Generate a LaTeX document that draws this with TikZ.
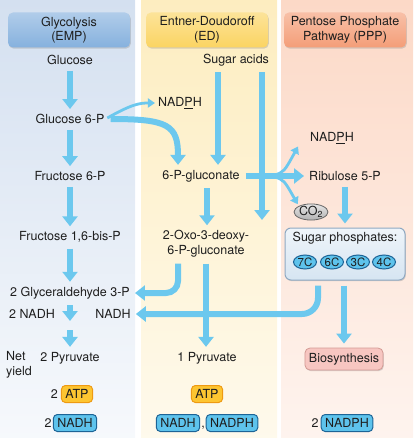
\documentclass[tikz,border=0pt]{standalone}
\usepackage{fontspec}
\setmainfont{TeX Gyre Heros}
\usetikzlibrary{arrows.meta,positioning,shapes.geometric,shadows}
\definecolor{flowblue}{HTML}{6CC8EE}
\definecolor{colblue}{HTML}{D4E0F0}
\definecolor{colyellow}{HTML}{FDEDC0}
\definecolor{colpink}{HTML}{FCD9C7}
\definecolor{hdblue}{HTML}{86B1DE}
\definecolor{hdyellow}{HTML}{FBD462}
\definecolor{hdpink}{HTML}{F49E78}
\definecolor{atpfill}{HTML}{FDC531}
\definecolor{atpline}{HTML}{EE9A12}
\definecolor{nadfill}{HTML}{5EC3EC}
\definecolor{nadline}{HTML}{1D6496}
\definecolor{biofill}{HTML}{F7C6C1}
\definecolor{bioline}{HTML}{D49A94}
\definecolor{spfill}{HTML}{D6E5F2}
\definecolor{spline}{HTML}{8FA9C2}
\definecolor{txt}{HTML}{1E1E1E}
\begin{document}
\begin{tikzpicture}[x=1pt,y=-1pt,
  every node/.style={font=\fontsize{12.5}{14.5}\selectfont, text=txt},
  lbl/.style={inner sep=1pt},
  header/.style={rounded corners=5pt, minimum width=122pt, minimum height=35pt, align=center, inner sep=0pt, drop shadow={shadow xshift=0.8pt, shadow yshift=-1.2pt, opacity=0.3}},
  flow/.style={line width=6pt, flowblue, -{Triangle[width=15pt,length=10pt]}, shorten <=5pt, shorten >=4pt},
  thinflow/.style={line width=2.8pt, flowblue, -{Triangle[width=9pt,length=7pt]}, shorten <=2pt, shorten >=2pt},
  tag/.style={rounded corners=4pt, draw, line width=1pt, inner xsep=4pt, inner ysep=0pt, minimum height=17pt},
  atptag/.style={tag, draw=atpline, fill=atpfill},
  nadtag/.style={tag, draw=nadline, fill=nadfill},
  carb/.style={ellipse, draw=nadline, fill=nadfill, line width=1pt, inner sep=0pt, minimum width=23pt, minimum height=14pt, font=\fontsize{11.5}{13}\selectfont}
]
\useasboundingbox (0,0) rectangle (413,438);
% columns
\shade [top color=colblue, bottom color=colblue!20!white] (0,0) rectangle (135,438);
\shade [top color=colyellow, bottom color=colyellow!30!white] (141,0) rectangle (277,438);
\shade [top color=colpink, bottom color=colpink!30!white] (281,0) rectangle (413,438);
% headers
\node [header, top color=hdblue!65!white, bottom color=hdblue] (hemp) at (69,30) {Glycolysis\\(EMP)};
\node [header, top color=hdyellow!65!white, bottom color=hdyellow] (hed) at (207,30) {Entner-Doudoroff\\(ED)};
\node [header, top color=hdpink!65!white, bottom color=hdpink] (hppp) at (345,30) {Pentose Phosphate\\Pathway (PPP)};
% metabolites
\node [lbl] (glc) at (70,60) {Glucose};
\node [lbl] (sug) at (236,60) {Sugar acids};
\node [lbl] (g6p) at (70,119) {Glucose 6-P};
\node [lbl] (nadpha) at (180,103) {NAD\underline{P}H};
\node [lbl] (nadphb) at (332,138) {NAD\underline{P}H};
\node [lbl] (f6p) at (70,176) {Fructose 6-P};
\node [lbl] (pg) at (201,176) {6-P-gluconate};
\node [lbl] (rib) at (345,176) {Ribulose 5-P};
\node [ellipse, draw=black!60, line width=0.8pt, top color=black!10, bottom color=black!30, inner sep=0pt, minimum width=33pt, minimum height=16pt] (co2) at (311,212) {CO\textsubscript{2}};
\node [lbl] (fbp) at (70,237) {Fructose 1,6-bis-P};
\node [lbl, align=center, font=\fontsize{12.5}{15}\selectfont] (oxo) at (206,244) {2-Oxo-3-deoxy-\\6-P-gluconate};
\node [rounded corners=6pt, draw=spline, line width=1pt, top color=spfill!40!white, bottom color=spfill, minimum width=120pt, minimum height=52pt, drop shadow={shadow xshift=0.8pt, shadow yshift=-1.2pt, opacity=0.3}] (sp) at (345,254) {};
\node [lbl] (sptxt) at (345,238) {Sugar phosphates:};
\foreach \n/\x in {7/305,6/332,3/358,4/384}
  \node [carb] (c\n) at (\x,262) {\n C};
\node [lbl] (g3p) at (70,293) {2 Glyceraldehyde 3-P};
\node [lbl] (nadhl) at (32,314) {2 NADH};
\node [lbl] (nadhm) at (113,314) {NADH};
\coordinate (gmid) at (70,325);
\node [lbl, align=left, anchor=west] (net) at (5,365) {Net\\yield};
\node [lbl] (pyr2) at (70,358) {2 Pyruvate};
\node [lbl] (pyr1) at (207,358) {1 Pyruvate};
\node [rounded corners=5pt, draw=bioline, line width=0.8pt, fill=biofill, inner xsep=4pt, minimum height=22pt, drop shadow={shadow xshift=0.8pt, shadow yshift=-1.2pt, opacity=0.3}] (bio) at (344,359) {Biosynthesis};
% net yield
\node [atptag] (atpa) at (77,394) {ATP};
\node [lbl, anchor=base east] (atpan) at ([xshift=-2pt]atpa.base west) {2};
\node [atptag] (atpb) at (207,394) {ATP};
\node [nadtag] (nadha) at (75,423) {NADH};
\node [lbl, anchor=base east] (nadhan) at (nadha.base west) {2};
\node [nadtag] (nadhb) at (178,423) {NADH};
\node [lbl, anchor=base west] (comma) at (nadhb.base east) {,};
\node [nadtag] (nadphc) at (232,423) {NADPH};
\node [nadtag] (nadphd) at (347,423) {NADPH};
\node [lbl, anchor=base east] (nadphdn) at ([xshift=-1pt]nadphd.base west) {2};
% EMP
\draw [flow] (glc) -- (g6p);
\draw [flow] (g6p) -- (f6p);
\draw [flow] (f6p) -- (fbp);
\draw [flow] (fbp) -- (g3p);
\draw [flow] (g3p) -- (gmid);
\draw [flow] (gmid) -- (pyr2);
% ED
\draw [thinflow] (g6p.east) .. controls (132,104) and (140,103) .. (nadpha.west);
\draw [flow] (g6p.east) .. controls (168,119) and (178,125) .. ([xshift=-23pt]pg.north);
\draw [flow] ([xshift=-18pt]sug.south) -- ([xshift=-18pt]sug.south |- pg.north);
\coordinate (edin) at (262,224);
\draw [flow] ([xshift=26pt]sug.south) -- (edin);
\draw [flow] ([xshift=6pt]pg.south) -- ([xshift=6pt]pg.south |- oxo.north);
\draw [flow, rounded corners=12pt] ([xshift=-28pt]oxo.south) |- (g3p.east);
\draw [flow] (oxo.south) -- (oxo.south |- pyr1.north);
% PPP
\coordinate (fork) at (272,176);
\draw [flow] (pg.east) -- (rib.west);
\draw [thinflow] (fork) .. controls (284,172) .. ([xshift=-10pt]nadphb.south west);
\draw [thinflow] (fork) .. controls (284,180) .. (co2.north west);
\draw [flow] (rib) -- (sp);
\draw [flow, rounded corners=16pt] ([xshift=-27pt]sp.south) |- (nadhm.east);
\draw [flow] (sp.south -| bio) -- (bio);
\end{tikzpicture}
\end{document}
